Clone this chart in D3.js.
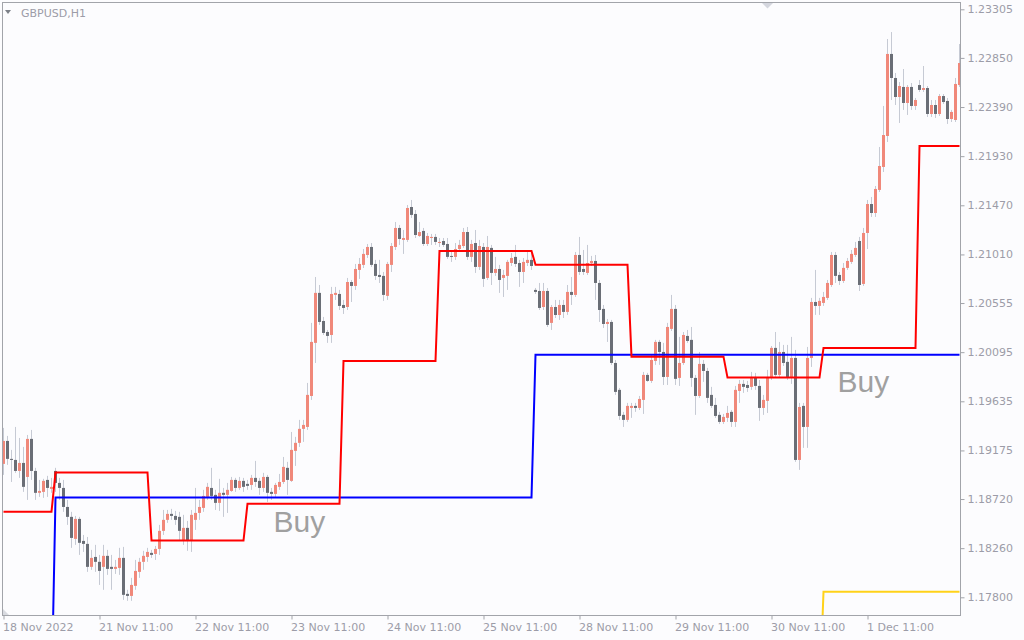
<!DOCTYPE html>
<html><head><meta charset="utf-8">
<script src="https://cdn.jsdelivr.net/npm/d3@7"></script>
<style>
html,body{margin:0;padding:0;background:#fcfcfe;}
svg{display:block;}
</style></head>
<body>
<svg id="c" width="1024" height="640"></svg>
<script>
// ---- data (GBPUSD H1, first bar 18 Nov 2022 11:00) ----
const opens = [1.19049,1.19264,1.19096,1.19086,1.18983,1.19058,1.18927,1.19283,1.18983,1.18778,
1.18787,1.18899,1.18815,1.18983,1.18871,1.18824,1.18646,1.18553,1.18347,1.18534,
1.18328,1.18300,1.18085,1.18178,1.18132,1.18085,1.18188,1.18085,1.18066,1.18075,
1.18169,1.17832,1.17813,1.17907,1.18038,1.18132,1.18178,1.18216,1.18206,1.18253,
1.18422,1.18525,1.18581,1.18562,1.18553,1.18337,1.18450,1.18337,1.18525,1.18590,
1.18637,1.18740,1.18824,1.18759,1.18684,1.18778,1.18759,1.18796,1.18899,1.18824,
1.18890,1.18862,1.18852,1.18918,1.18890,1.18824,1.18927,1.18787,1.18768,1.18834,
1.18880,1.19012,1.18890,1.19171,1.19246,1.19377,1.19395,1.19685,1.20182,1.20650,
1.20387,1.20284,1.20256,1.20631,1.20640,1.20537,1.20518,1.20752,1.20715,1.20865,
1.20912,1.21005,1.21080,1.20921,1.20818,1.20809,1.20622,1.20912,1.21080,1.21258,
1.21146,1.21146,1.21454,1.21389,1.21183,1.21230,1.21108,1.21164,1.21174,1.21117,
1.21136,1.21108,1.20996,1.20987,1.21061,1.21089,1.21220,1.20987,1.21117,1.20893,
1.21080,1.20790,1.21071,1.20837,1.20874,1.20790,1.20809,1.20930,1.20987,1.20930,
1.20846,1.20930,1.20959,1.20678,1.20668,1.20518,1.20668,1.20369,1.20518,1.20443,
1.20537,1.20472,1.20659,1.20631,1.21005,1.20874,1.20837,1.20930,1.20949,1.20743,
1.20500,1.20359,1.20378,1.19994,1.19742,1.19508,1.19461,1.19573,1.19592,1.19573,
1.19648,1.19882,1.19826,1.20013,1.20191,1.20097,1.19863,1.20313,1.20500,1.19854,
1.19994,1.20247,1.20210,1.19854,1.19685,1.19985,1.19919,1.19695,1.19601,1.19508,
1.19442,1.19480,1.19536,1.19442,1.19732,1.19798,1.19788,1.19770,1.19863,1.19779,
1.19573,1.19639,1.19863,1.20135,1.19882,1.20097,1.20004,1.19863,1.20041,1.19086,
1.19592,1.19395,1.20041,1.20565,1.20528,1.20556,1.20603,1.20724,1.21005,1.20818,
1.20762,1.20884,1.20940,1.21005,1.21136,1.20734,1.21211,1.21482,1.21398,1.21614,
1.21829,1.22119,1.22887,1.22662,1.22484,1.22578,1.22428,1.22578,1.22400,1.22596,
1.22550,1.22568,1.22325,1.22409,1.22325,1.22493,1.22447,1.22278,1.22269,1.22596];

const highs = [1.19386,1.19311,1.19180,1.19395,1.19292,1.19208,1.19320,1.19367,1.19012,1.18899,
1.18909,1.18937,1.18918,1.19012,1.18918,1.18899,1.18712,1.18600,1.18562,1.18553,
1.18384,1.18365,1.18244,1.18291,1.18197,1.18291,1.18244,1.18197,1.18150,1.18263,
1.18272,1.17870,1.17982,1.18150,1.18169,1.18235,1.18263,1.18244,1.18281,1.18478,
1.18618,1.18618,1.18628,1.18609,1.18600,1.18572,1.18515,1.18618,1.18824,1.18712,
1.18806,1.18871,1.19012,1.18806,1.18909,1.18824,1.18871,1.18927,1.18918,1.18927,
1.18918,1.18899,1.18946,1.19077,1.18918,1.18965,1.18946,1.18824,1.18871,1.18955,
1.19114,1.19068,1.19348,1.19302,1.19461,1.19461,1.19807,1.20369,1.20799,1.20724,
1.20425,1.20303,1.20706,1.20706,1.20678,1.20584,1.20790,1.20771,1.20921,1.20977,
1.21061,1.21108,1.21117,1.20959,1.20959,1.20846,1.20940,1.21117,1.21314,1.21286,
1.21239,1.21473,1.21520,1.21426,1.21314,1.21258,1.21211,1.21202,1.21202,1.21164,
1.21164,1.21164,1.21033,1.21117,1.21146,1.21258,1.21267,1.21146,1.21239,1.21146,
1.21117,1.21183,1.21099,1.20987,1.20912,1.20865,1.20959,1.21024,1.21099,1.20959,
1.20977,1.21033,1.21052,1.20696,1.20743,1.20743,1.20696,1.20537,1.20584,1.20584,
1.20584,1.20724,1.20799,1.21033,1.21174,1.21052,1.21099,1.20996,1.21005,1.20771,
1.20537,1.20406,1.20397,1.20022,1.19760,1.19536,1.19620,1.19620,1.19620,1.19685,
1.19910,1.19901,1.20069,1.20210,1.20210,1.20182,1.20369,1.20631,1.20537,1.20238,
1.20284,1.20303,1.20331,1.19882,1.20097,1.20022,1.19948,1.19770,1.19667,1.19536,
1.19517,1.19592,1.19554,1.19779,1.19835,1.19835,1.19826,1.19910,1.19901,1.19835,
1.19695,1.19929,1.20153,1.20284,1.20191,1.20163,1.20163,1.20238,1.20116,1.19620,
1.19620,1.20144,1.20603,1.20865,1.20603,1.20659,1.20771,1.21033,1.21033,1.20846,
1.20930,1.20977,1.21052,1.21127,1.21174,1.21258,1.21520,1.21548,1.21651,1.22016,
1.22400,1.23027,1.23092,1.22709,1.22624,1.22746,1.22596,1.22615,1.22475,1.22643,
1.22774,1.22587,1.22456,1.22456,1.22512,1.22512,1.22475,1.22363,1.22662,1.22980];

const lows = [1.18946,1.19040,1.18880,1.18965,1.18918,1.18787,1.18712,1.18899,1.18712,1.18740,
1.18731,1.18740,1.18778,1.18787,1.18712,1.18600,1.18478,1.18263,1.18291,1.18197,
1.18225,1.18038,1.18057,1.18038,1.17916,1.17870,1.18010,1.17870,1.18019,1.18010,
1.17776,1.17767,1.17767,1.17870,1.17982,1.18057,1.18132,1.18169,1.18150,1.18197,
1.18384,1.18497,1.18525,1.18478,1.18337,1.18291,1.18235,1.18225,1.18431,1.18525,
1.18600,1.18712,1.18712,1.18618,1.18609,1.18553,1.18590,1.18787,1.18787,1.18806,
1.18787,1.18806,1.18806,1.18834,1.18759,1.18787,1.18693,1.18712,1.18740,1.18806,
1.18862,1.18759,1.18880,1.19030,1.19208,1.19255,1.19367,1.19648,1.19994,1.20350,
1.20256,1.20182,1.20182,1.20584,1.20490,1.20453,1.20490,1.20565,1.20678,1.20781,
1.20883,1.20977,1.20893,1.20771,1.20743,1.20575,1.20584,1.20846,1.21052,1.21099,
1.21015,1.21127,1.21352,1.21164,1.21174,1.21089,1.21089,1.21099,1.21099,1.21080,
1.21080,1.20968,1.20940,1.20959,1.21033,1.21071,1.20959,1.20940,1.20837,1.20865,
1.20706,1.20771,1.20724,1.20809,1.20650,1.20612,1.20678,1.20902,1.20893,1.20706,
1.20743,1.20902,1.20865,1.20640,1.20490,1.20490,1.20331,1.20303,1.20415,1.20397,
1.20415,1.20444,1.20537,1.20612,1.20818,1.20818,1.20818,1.20902,1.20584,1.20378,
1.20322,1.20191,1.19976,1.19695,1.19461,1.19395,1.19442,1.19480,1.19536,1.19554,
1.19517,1.19817,1.19807,1.19976,1.19976,1.19788,1.19788,1.20294,1.19788,1.19779,
1.19976,1.20182,1.19770,1.19508,1.19667,1.19817,1.19620,1.19573,1.19480,1.19423,
1.19423,1.19442,1.19395,1.19395,1.19620,1.19714,1.19723,1.19742,1.19742,1.19452,
1.19508,1.19526,1.19835,1.19854,1.19854,1.19966,1.19835,1.19798,1.19068,1.18993,
1.19199,1.19199,1.19957,1.20444,1.20444,1.20528,1.20584,1.20706,1.20743,1.20724,
1.20743,1.20865,1.20921,1.20987,1.20668,1.20715,1.21061,1.21361,1.21361,1.21595,
1.21782,1.22063,1.22456,1.22409,1.22241,1.22363,1.22316,1.22363,1.22363,1.22531,
1.22531,1.22297,1.22297,1.22288,1.22306,1.22419,1.22232,1.22250,1.22250,1.22578];

const closes = [1.19264,1.19096,1.19086,1.18983,1.19058,1.18834,1.19283,1.18983,1.18778,1.18796,
1.18890,1.18824,1.18834,1.18871,1.18824,1.18646,1.18553,1.18356,1.18534,1.18310,
1.18300,1.18085,1.18169,1.18132,1.18047,1.18188,1.18066,1.18066,1.18085,1.18169,
1.17823,1.17813,1.17916,1.18047,1.18132,1.18188,1.18225,1.18197,1.18253,1.18422,
1.18525,1.18581,1.18562,1.18525,1.18422,1.18450,1.18337,1.18572,1.18590,1.18646,
1.18749,1.18834,1.18749,1.18684,1.18778,1.18759,1.18806,1.18899,1.18824,1.18890,
1.18834,1.18843,1.18918,1.18880,1.18824,1.18927,1.18778,1.18768,1.18852,1.18880,
1.19021,1.18899,1.19180,1.19246,1.19377,1.19414,1.19695,1.20191,1.20650,1.20378,
1.20275,1.20247,1.20640,1.20650,1.20528,1.20509,1.20752,1.20715,1.20874,1.20921,
1.21015,1.21080,1.20912,1.20809,1.20799,1.20631,1.20921,1.21089,1.21258,1.21155,
1.21164,1.21445,1.21380,1.21192,1.21220,1.21108,1.21183,1.21174,1.21127,1.21127,
1.21099,1.20987,1.20987,1.21061,1.21099,1.21220,1.20987,1.21108,1.20893,1.21089,
1.20781,1.21080,1.20837,1.20874,1.20771,1.20818,1.20940,1.20977,1.20921,1.20846,
1.20940,1.20959,1.20902,1.20659,1.20509,1.20668,1.20350,1.20518,1.20443,1.20537,
1.20472,1.20659,1.20631,1.21005,1.20846,1.20846,1.20930,1.20949,1.20743,1.20490,
1.20359,1.20378,1.19994,1.19723,1.19498,1.19461,1.19592,1.19592,1.19573,1.19657,
1.19882,1.19826,1.20022,1.20191,1.20097,1.19863,1.20331,1.20500,1.19845,1.19994,
1.20256,1.20200,1.19854,1.19685,1.19985,1.19919,1.19667,1.19592,1.19498,1.19442,
1.19489,1.19526,1.19442,1.19742,1.19798,1.19770,1.19760,1.19863,1.19779,1.19573,
1.19648,1.19863,1.20135,1.19882,1.20097,1.19994,1.19863,1.20041,1.19086,1.19582,
1.19395,1.20041,1.20565,1.20528,1.20575,1.20612,1.20743,1.21005,1.20809,1.20762,
1.20884,1.20949,1.21015,1.21071,1.20724,1.21211,1.21482,1.21398,1.21623,1.21838,
1.22128,1.22887,1.22662,1.22484,1.22587,1.22428,1.22578,1.22400,1.22456,1.22550,
1.22568,1.22325,1.22409,1.22325,1.22493,1.22437,1.22278,1.22344,1.22606,1.22802];

// indicator levels (bar index where each level starts, and the level)
const redStarts = [0, 13, 37, 61, 85, 109, 133, 157, 181, 205, 229];
const redLevels = [1.18602, 1.18968, 1.18331, 1.18677, 1.20013, 1.21043, 1.20914, 1.20053, 1.19857, 1.20135, 1.22025];
const blueStarts = [0, 13, 133];
const blueLevels = [1.16840, 1.18734, 1.20071];
const yellowStarts = [0, 205];
const yellowLevels = [1.16840, 1.17851];

const priceTicks = [1.23305,1.22850,1.22390,1.21930,1.21470,1.21010,1.20555,1.20095,1.19635,1.19175,1.18720,1.18260,1.17800];
const timeTickBars = [0,24,48,72,96,120,144,168,192,216];
const timeLabels = ["18 Nov 2022","21 Nov 11:00","22 Nov 11:00","23 Nov 11:00","24 Nov 11:00","25 Nov 11:00","28 Nov 11:00","29 Nov 11:00","30 Nov 11:00","1 Dec 11:00"];
const buyBars = [67.5, 208.5];
const buyPrices = [1.18412, 1.19726];
const symbolTitle = "GBPUSD,H1";

// ---- drawing ----
const N = closes.length;
const svg = d3.select("#c");
const axisFont = "DejaVu Sans, Verdana, sans-serif";
const textCol = "#9c9ca8";
const frameCol = "#a2a4aa";

svg.append("rect").attr("width",1024).attr("height",640).attr("fill","#fcfcfe");

const x = d3.scaleLinear().domain([0, N-1]).range([3.5, 3.5 + 4*(N-1)]);
const y = d3.scaleLinear().domain([1.17800, 1.23305]).range([597.3, 9.3]);

svg.append("clipPath").attr("id","plotclip")
  .append("rect").attr("x",3).attr("y",3).attr("width",957).attr("height",612);

const plot = svg.append("g").attr("clip-path","url(#plotclip)");

const bars = d3.range(N).map(i => ({i, o:opens[i], h:highs[i], l:lows[i], c:closes[i]}));

// wicks
plot.append("g").selectAll("rect").data(bars).join("rect")
  .attr("x", d => x(d.i) - 0.5)
  .attr("width", 1)
  .attr("y", d => y(d.h))
  .attr("height", d => Math.max(1, y(d.l) - y(d.h)))
  .attr("fill", "#c6cad4");

// bodies
plot.append("g").selectAll("rect").data(bars).join("rect")
  .attr("x", d => x(d.i) - 1.5)
  .attr("width", 3)
  .attr("y", d => y(Math.max(d.o, d.c)))
  .attr("height", d => Math.max(1, Math.abs(y(d.o) - y(d.c))))
  .attr("fill", d => d.c > d.o ? "#f0887a" : "#6a6e76");

function expand(starts, levels){
  return d3.range(N).map(i => levels[d3.bisectRight(starts, i) - 1]);
}
const line = d3.line().x((d,i) => x(i)).y(d => y(d));

[[yellowStarts, yellowLevels, "#ffd21a"], [blueStarts, blueLevels, "#0000ff"], [redStarts, redLevels, "#ff0000"]]
  .forEach(([s, l, col]) => {
    plot.append("path").datum(expand(s, l))
      .attr("d", line).attr("fill","none").attr("stroke", col).attr("stroke-width", 2);
  });

// Buy labels
svg.append("g").selectAll("text").data(buyBars).join("text")
  .attr("x", (d,k) => x(d))
  .attr("y", (d,k) => y(buyPrices[k]))
  .attr("font-family", "Liberation Sans, Arial, sans-serif")
  .attr("font-size", 30)
  .attr("fill", "#a0a0a0")
  .text("Buy");

// frame
svg.append("rect").attr("x",2.5).attr("y",2.5).attr("width",958).attr("height",613)
  .attr("fill","none").attr("stroke",frameCol).attr("stroke-width",1);

// right price axis
const ya = svg.append("g").attr("transform","translate(960.5,0)")
  .call(d3.axisRight(y).tickValues(priceTicks).tickFormat(d3.format(".5f")).tickSize(4).tickPadding(3).tickSizeOuter(0));
ya.select(".domain").remove();
ya.selectAll("line").attr("stroke", frameCol);
ya.selectAll("text").attr("font-family", axisFont).attr("font-size", 11).attr("fill", textCol);

// bottom time axis
const xa = svg.append("g").attr("transform","translate(0,615.5)")
  .call(d3.axisBottom(x).tickValues(timeTickBars).tickFormat((d,k) => timeLabels[k]).tickSize(4).tickPadding(4).tickSizeOuter(0));
xa.select(".domain").remove();
xa.selectAll("line").attr("stroke", frameCol);
xa.selectAll("text").attr("text-anchor","start").attr("dx", -1)
  .attr("font-family", axisFont).attr("font-size", 11).attr("fill", textCol);

// title
svg.append("path").attr("d","M5,10 L11,10 L8,14 Z").attr("fill","#7c8088");
svg.append("text").attr("x",21).attr("y",17).attr("font-family",axisFont).attr("font-size",11)
  .attr("fill",textCol).text(symbolTitle);

// small markers
svg.append("path").attr("d","M762,3 L773,3 L767.5,8.5 Z").attr("fill","#d4d6de");
svg.append("path").attr("d","M3,609 L3,615 L9,615 Z").attr("fill","#d8dae0");
</script>
</body></html>
